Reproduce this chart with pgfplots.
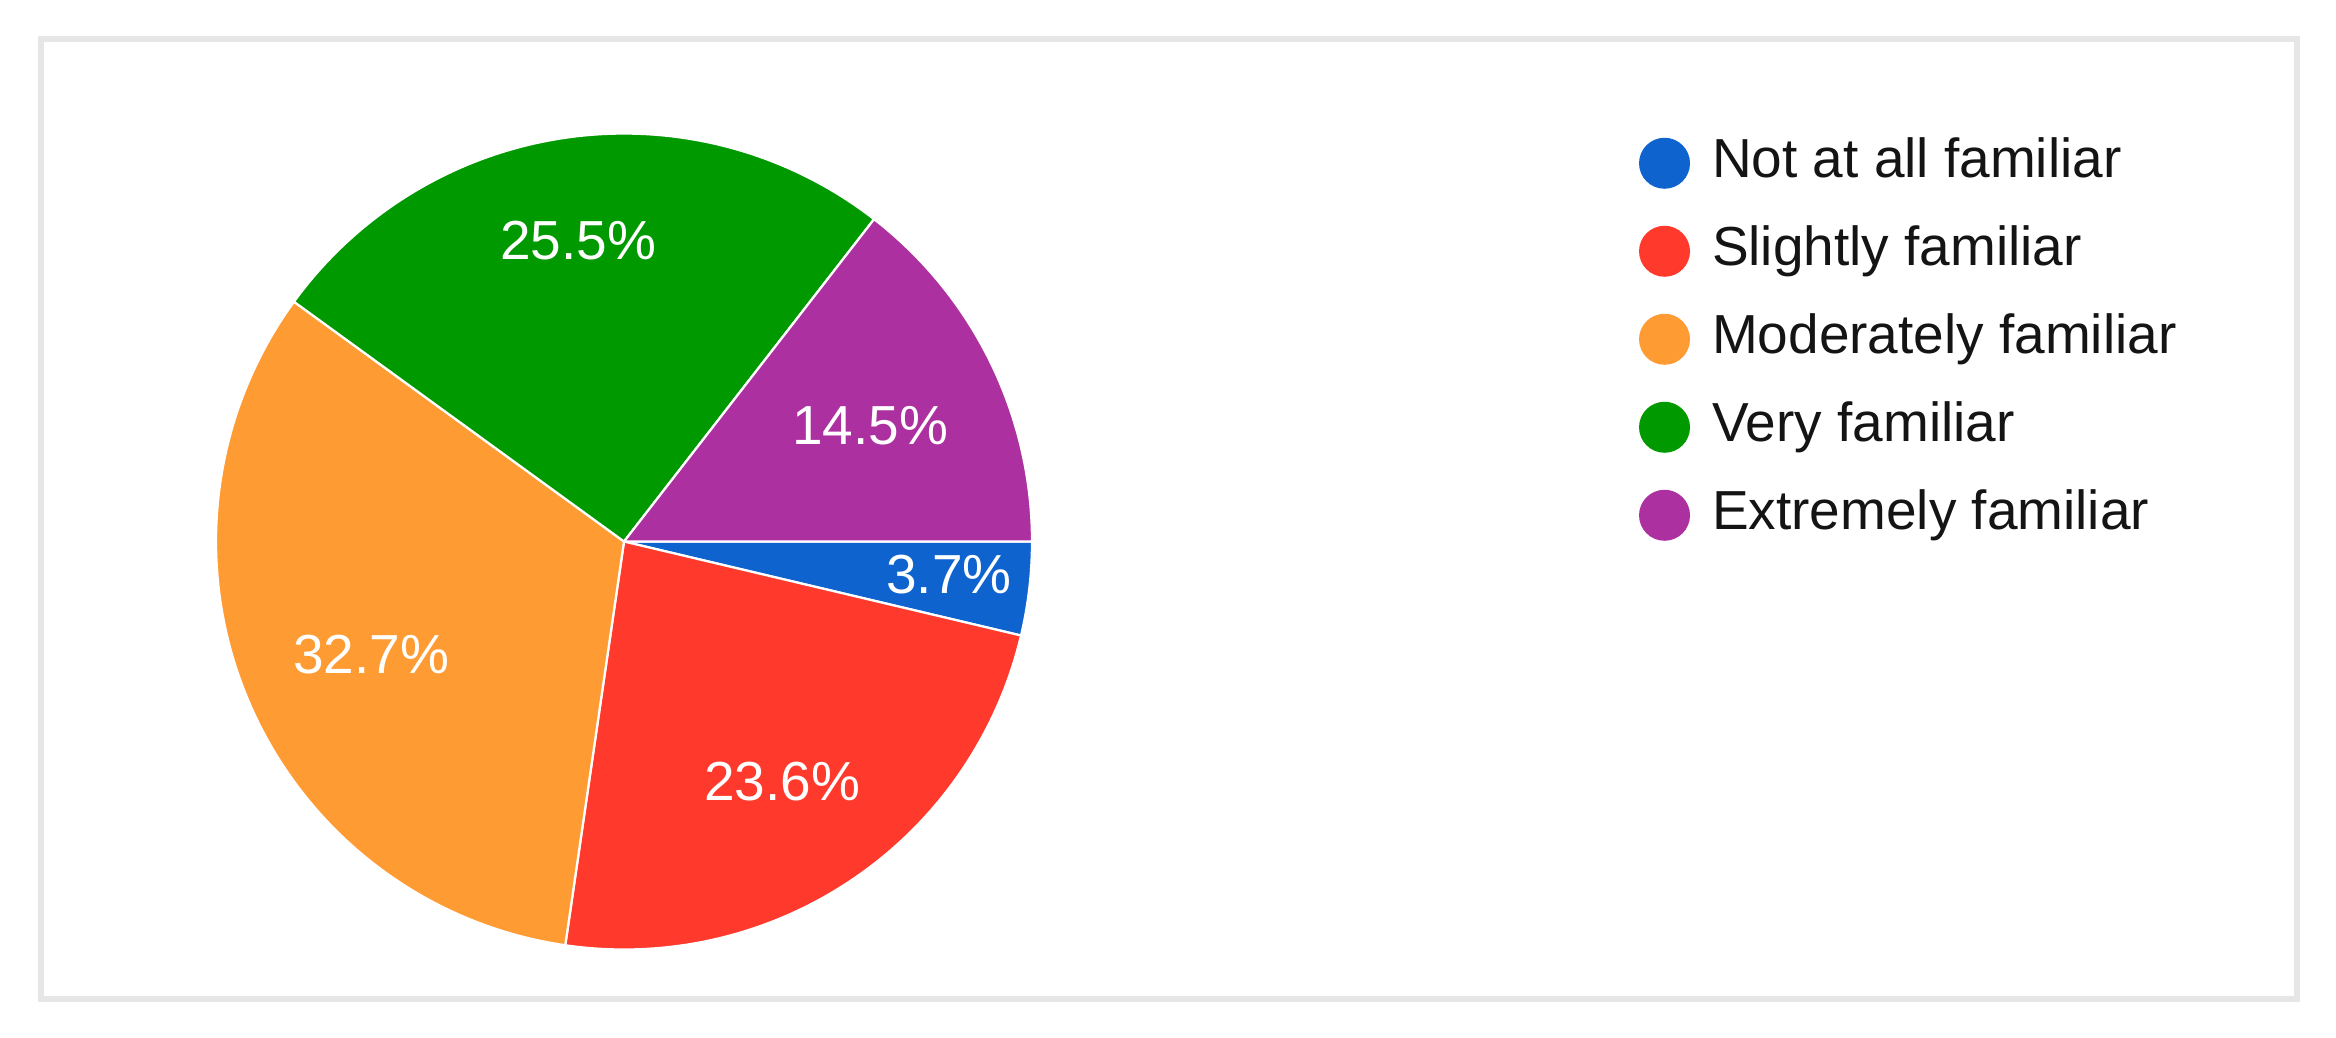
\documentclass[border=0pt]{standalone}
\usepackage{fontspec}
\setmainfont{Liberation Sans}
\usepackage{pgfplots}
\pgfplotsset{compat=1.18}
\definecolor{cBlue}{RGB}{14,99,207}
\definecolor{cRed}{RGB}{255,58,44}
\definecolor{cOrange}{RGB}{255,155,51}
\definecolor{cGreen}{RGB}{0,153,0}
\definecolor{cPurple}{RGB}{172,48,160}
\definecolor{frameGray}{RGB}{230,230,230}
\definecolor{txt}{RGB}{20,20,20}
% shares (percent)
\def\vA{3.7}\def\vB{23.6}\def\vC{32.7}\def\vD{25.5}\def\vE{14.5}
\pgfmathsetmacro\aA{0}
\pgfmathsetmacro\aB{\aA-3.6*\vA}
\pgfmathsetmacro\aC{\aB-3.6*\vB}
\pgfmathsetmacro\aD{\aC-3.6*\vC}
\pgfmathsetmacro\aE{\aD-3.6*\vD}
\pgfmathsetmacro\aF{\aE-3.6*\vE}
\def\cx{624}\def\cy{495.5}\def\R{408}
\begin{document}
\begin{tikzpicture}
\path (0,0) rectangle (467.2pt,207.4pt);
\begin{axis}[
  x=0.2pt, y=0.2pt, xmin=0, xmax=2336, ymin=0, ymax=1037,
  hide axis, clip=false, anchor=origin, at={(0,0)}, scale only axis,
  legend image code/.code={\fill[#1, draw=none] (0pt,0pt) circle (5.1pt);},
  legend style={draw=none, fill=none, inner sep=0pt, outer sep=0pt,
    at={(axis cs:1639,900)}, anchor=north west,
    font=\fontsize{11}{13}\selectfont, text=txt,
    nodes={inner sep=0pt, text height=8pt, text depth=2.5pt},
    row sep=7.1pt,
    /tikz/every odd column/.append style={column sep=4.4pt}},
  legend cell align=left,
]
\draw[frameGray, line width=1.2pt] (41,998) rectangle (2297,38);
\addplot[fill=cBlue, draw=white, line width=0.45pt, line join=round, domain=\aB:\aA, samples=40]
  ({\cx+\R*cos(x)},{\cy+\R*sin(x)}) -- (\cx,\cy) -- cycle;
\addlegendentry{Not at all familiar}
\addplot[fill=cRed, draw=white, line width=0.45pt, line join=round, domain=\aC:\aB, samples=120]
  ({\cx+\R*cos(x)},{\cy+\R*sin(x)}) -- (\cx,\cy) -- cycle;
\addlegendentry{Slightly familiar}
\addplot[fill=cOrange, draw=white, line width=0.45pt, line join=round, domain=\aD:\aC, samples=160]
  ({\cx+\R*cos(x)},{\cy+\R*sin(x)}) -- (\cx,\cy) -- cycle;
\addlegendentry{Moderately familiar}
\addplot[fill=cGreen, draw=white, line width=0.45pt, line join=round, domain=\aE:\aD, samples=120]
  ({\cx+\R*cos(x)},{\cy+\R*sin(x)}) -- (\cx,\cy) -- cycle;
\addlegendentry{Very familiar}
\addplot[fill=cPurple, draw=white, line width=0.45pt, line join=round, domain=\aF:\aE, samples=80]
  ({\cx+\R*cos(x)},{\cy+\R*sin(x)}) -- (\cx,\cy) -- cycle;
\addlegendentry{Extremely familiar}
\begin{scope}[every node/.style={text=white, font=\fontsize{11}{13}\selectfont, inner sep=0pt}]
\node at (949,462) {3.7\%};
\node at (782,255) {23.6\%};
\node at (371,382) {32.7\%};
\node at (578,796) {25.5\%};
\node at (870,611) {14.5\%};
\end{scope}
\end{axis}
\end{tikzpicture}
\end{document}
